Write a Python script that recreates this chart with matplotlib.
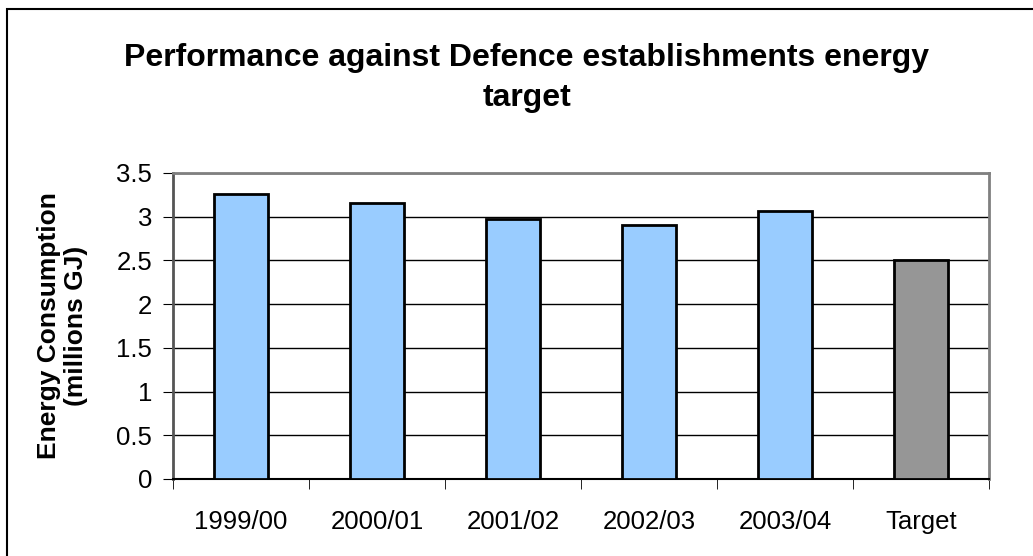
import numpy as np
import matplotlib
matplotlib.use('Agg')
import matplotlib.pyplot as plt
from matplotlib.patches import Rectangle

plt.rcParams['font.family'] = ['Liberation Sans', 'DejaVu Sans']

# data
years = ['1999/00', '2000/01', '2001/02', '2002/03', '2003/04', 'Target']
energy = [3.265, 3.16, 2.97, 2.90, 3.06, 2.50]
colours = ['#99ccff'] * 5 + ['#969696']
yticks = [0, 0.5, 1, 1.5, 2, 2.5, 3, 3.5]
ytick_labels = ['0', '0.5', '1', '1.5', '2', '2.5', '3', '3.5']

W, H = 1033, 556
fig = plt.figure(figsize=(W / 100, H / 100), dpi=100)
ax = fig.add_axes([173 / W, 1 - 479 / H, (989 - 173) / W, (479 - 173) / H])

x = np.arange(len(years))
ax.bar(x, energy, width=0.4, color=colours, edgecolor='black', linewidth=2, zorder=3)

ax.set_xlim(-0.5, len(years) - 0.5)
ax.set_ylim(0, 3.5)
ax.set_yticks(yticks)
ax.set_yticklabels(ytick_labels, fontsize=18.5)
ax.set_xticks(x)
ax.set_xticklabels(years, fontsize=18.5)
ax.tick_params(axis='x', length=0, pad=22)
ax.set_xticks(np.arange(len(years) + 1) - 0.5, minor=True)
ax.tick_params(axis='x', which='minor', length=7, direction='out', color='black')
ax.tick_params(axis='y', length=7, direction='out', color='black', pad=8)

ax.yaxis.grid(True, color='black', linewidth=1, zorder=0)
ax.set_axisbelow(True)
for s in ['top', 'right']:
    ax.spines[s].set_color('#808080')
    ax.spines[s].set_linewidth(2)
ax.spines['left'].set_color('#555555')
ax.spines['left'].set_linewidth(2)
ax.spines['bottom'].set_color('black')
ax.spines['bottom'].set_linewidth(1.5)

ax.set_ylabel('Energy Consumption\n(millions GJ)', fontsize=19, fontweight='bold',
              linespacing=1.15)
ax.yaxis.set_label_coords(-0.104, 0.5)

fig.text(527 / W, 1 - 78 / H, 'Performance against Defence establishments energy\ntarget',
         ha='center', va='center', fontsize=23, fontweight='bold', linespacing=1.45)

# outer chart border
fig.patches.append(Rectangle((7 / W, -0.05), 1.1, 1.05 - 9 / H, transform=fig.transFigure,
                             fill=False, edgecolor='black', linewidth=1.5))

fig.savefig('out.png', dpi=100)
